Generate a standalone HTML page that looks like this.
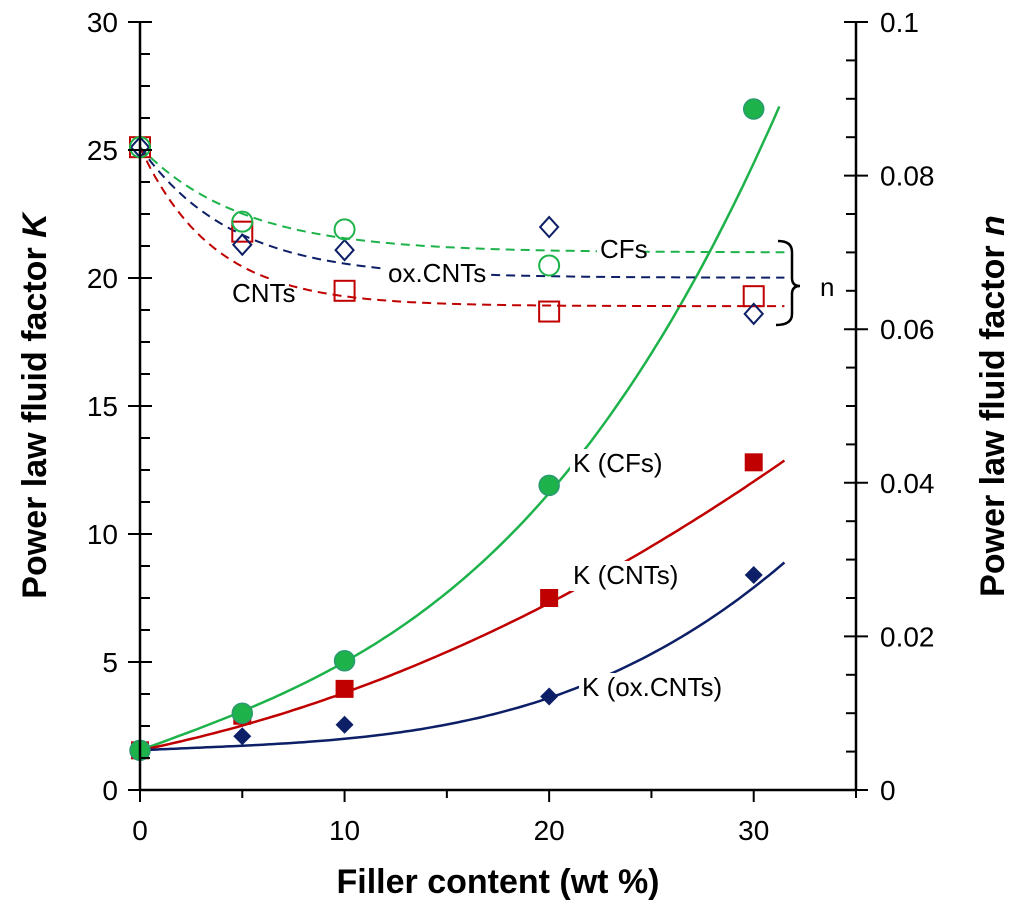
<!DOCTYPE html>
<html><head><meta charset="utf-8"><style>
body{margin:0;background:#fff}
svg{display:block;font-family:"Liberation Sans",Arial,sans-serif}
</style></head><body>
<svg id="c" width="1024" height="906"></svg>
<script>
const xs=[0,5,10,20,30];
const kCFs=[1.55,3.0,5.05,11.9,26.6];
const kCNTs=[1.55,2.9,3.95,7.5,12.8];
const kOx=[1.55,2.1,2.55,3.65,8.4];
const nCFs=[0.0837,0.0740,0.0730,0.0683];
const nCFsX=[0,5,10,20];
const nCNTs=[0.0837,0.0727,0.0650,0.0623,0.0643];
const nOx=[0.0837,0.0710,0.0703,0.0733,0.0620];
const xTicks=[0,10,20,30];
const yTicks=[0,5,10,15,20,25,30];
const y2Ticks=[0,0.02,0.04,0.06,0.08,0.1];
const y2Labels=["0","0.02","0.04","0.06","0.08","0.1"];
// fitted curve coefficients (K = K0 + a x + b x^2 + c x^3)
const fitCFs=[0.2924,0.00002,0.000524];
const fitCNTs=[0.1625,0.00625,0.0000];
const fitOx=[0.0398,-0.00209,0.000261];

const NS="http://www.w3.org/2000/svg",svg=document.getElementById('c');
const X=v=>140+v*(716/35), Y=v=>790-v*(768/30), Y2=v=>790-v*7680;
function el(t,a,p){const e=document.createElementNS(NS,t);for(const k in a)e.setAttribute(k,a[k]);(p||svg).appendChild(e);return e;}
const cub=(k0,f)=>x=>k0+f[0]*x+f[1]*x*x+f[2]*x*x*x;
function curve(f,x1,color,dash,name,yf){let d='';for(let x=0;x<=x1+1e-9;x+=0.25){d+=(d?'L':'M')+X(x).toFixed(1)+','+yf(f(x)).toFixed(1);}
const p=el('path',{d,fill:'none',stroke:color,'stroke-width':dash?2:2.5,'stroke-dasharray':dash?'9,6':'none'});
}
curve(cub(kCFs[0],fitCFs),31.25,'#1db34a',false,'fit-k-cfs',Y);
curve(cub(kCNTs[0],fitCNTs),31.5,'#c00000',false,'fit-k-cnts',Y);
curve(cub(kOx[0],fitOx),31.5,'#0d1f66',false,'fit-k-oxcnts',Y);
const nfit=(a,t)=>x=>a+(0.0837-a)*Math.exp(-x/t);
curve(nfit(0.0700,5),31.6,'#1db34a',true,'fit-n-cfs',Y2);
curve(nfit(0.0667,4.5),31.6,'#0d1f66',true,'fit-n-oxcnts',Y2);
curve(nfit(0.0630,3.6),31.6,'#c00000',true,'fit-n-cnts',Y2);
function label(t,x,y,name){const w=t.length*13.5+6;el('rect',{x:x-3,y:y-23,width:w,height:30,fill:'#fff'});
const e=el('text',{x,y,'font-size':26});e.textContent=t;}
label('K (CFs)',573,472,'label-k-cfs');label('K (CNTs)',573,584,'label-k-cnts');label('K (ox.CNTs)',582,696,'label-k-oxcnts');
label('CFs',600,258,'label-n-cfs');label('ox.CNTs',388,282,'label-n-oxcnts');label('CNTs',232,302,'label-n-cnts');
xs.forEach((x,i)=>{
 let e=el('rect',{x:X(x)-10,y:Y2(nCNTs[i])-10,width:20,height:20,fill:'none',stroke:'#c00000','stroke-width':2});
 e=el('path',{d:`M${X(x)},${Y2(nOx[i])-10}l9,10l-9,10l-9,-10z`,fill:'none',stroke:'#0d1f66','stroke-width':2});
});
nCFsX.forEach((x,i)=>{const e=el('circle',{cx:X(x),cy:Y2(nCFs[i]),r:10,fill:'none',stroke:'#1db34a','stroke-width':2});});
xs.forEach((x,i)=>{
 let e=el('path',{d:`M${X(x)},${Y(kOx[i])-9}l9,9l-9,9l-9,-9z`,fill:'#0d1f66'});
 e=el('rect',{x:X(x)-9,y:Y(kCNTs[i])-9,width:18,height:18,fill:'#c00000'});
 e=el('circle',{cx:X(x),cy:Y(kCFs[i]),r:10,fill:'#1db34a',stroke:'#2a9a70','stroke-width':1.5});
});
el('path',{d:'M778,241 Q792,241 792,252 L792,278 Q792,286 800,286 Q792,286 792,294 L792,314 Q792,325 776,325',fill:'none',stroke:'#000','stroke-width':2.5});
let t=el('text',{x:820,y:296,'font-size':26});t.textContent='n';
el('line',{x1:140,y1:22,x2:140,y2:790,stroke:'#000','stroke-width':2.5});
el('line',{x1:856,y1:22,x2:856,y2:790,stroke:'#000','stroke-width':2.5});
el('line',{x1:140,y1:790,x2:856,y2:790,stroke:'#000','stroke-width':2.5});
for(let v=0;v<=30;v+=1.25){const y=Y(v);if(v%5===0){el('line',{x1:128,y1:y,x2:152,y2:y,stroke:'#000','stroke-width':2});}else el('line',{x1:140,y1:y,x2:150,y2:y,stroke:'#000','stroke-width':2});}
yTicks.forEach(v=>{const e=el('text',{x:118,y:Y(v)+10,'font-size':28,'text-anchor':'end'});e.textContent=v;});
for(let v=0;v<=0.1001;v+=0.005){const y=Y2(v);const maj=Math.abs(v/0.02-Math.round(v/0.02))<1e-6;el('line',{x1:maj?844:846,y1:y,x2:maj?868:856,y2:y,stroke:'#000','stroke-width':2});}
y2Ticks.forEach((v,i)=>{const e=el('text',{x:880,y:Y2(v)+10,'font-size':28});e.textContent=y2Labels[i];});
for(let v=0;v<=35;v+=5){el('line',{x1:X(v),y1:790,x2:X(v),y2:v%10===0?802:798,stroke:'#000','stroke-width':2});}
xTicks.forEach(v=>{const e=el('text',{x:X(v),y:840,'font-size':28,'text-anchor':'middle'});e.textContent=v;});
t=el('text',{x:498,y:893,'font-size':34,'font-weight':'bold','text-anchor':'middle'});t.textContent='Filler content (wt %)';
t=el('text',{transform:'translate(46,406) rotate(-90)','font-size':34,'font-weight':'bold','text-anchor':'middle'});t.innerHTML='Power law fluid factor <tspan font-style="italic">K</tspan>';
t=el('text',{transform:'translate(1004,406) rotate(-90)','font-size':34,'font-weight':'bold','text-anchor':'middle'});t.innerHTML='Power law fluid factor <tspan font-style="italic">n</tspan>';
</script>
</body></html>
